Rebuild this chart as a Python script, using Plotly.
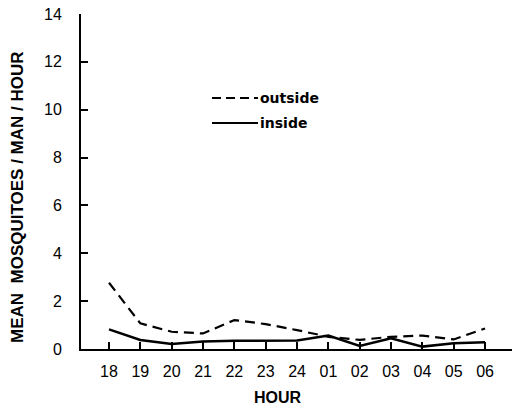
import plotly.graph_objects as go

hours = ["18", "19", "20", "21", "22", "23", "24", "01", "02", "03", "04", "05", "06"]
outside = [2.77, 1.07, 0.72, 0.65, 1.21, 1.04, 0.79, 0.51, 0.38, 0.51, 0.56, 0.40, 0.86]
inside = [0.82, 0.38, 0.21, 0.31, 0.34, 0.34, 0.36, 0.56, 0.13, 0.45, 0.10, 0.24, 0.28]
yticks = [0, 2, 4, 6, 8, 10, 12, 14]

idx = list(range(len(hours)))
L, R, T, B = 81, 0, 14, 56
W, H = 512, 405
pw, ph = W - L - R, H - T - B

def px(x):
    return (x - L) / pw

def py(y):
    return (H - B - y) / ph

fig = go.Figure()
fig.add_trace(go.Scatter(x=idx, y=outside, mode="lines", name="outside",
                         line=dict(color="black", width=2.2, dash="10px,6px")))
fig.add_trace(go.Scatter(x=idx, y=inside, mode="lines", name="inside",
                         line=dict(color="black", width=2.5)))

tickfont = dict(family="Liberation Sans Narrow, Liberation Sans, Arial", size=16, color="black")
boldfont = dict(family="Liberation Sans, Arial", size=17, color="black")
hourfont = dict(family="Liberation Sans, Arial", size=16, color="black")
legfont = dict(family="DejaVu Sans, Liberation Sans", size=14, color="black")

fig.update_layout(
    width=W, height=H,
    margin=dict(l=L, r=R, t=T, b=B),
    paper_bgcolor="white", plot_bgcolor="white",
    showlegend=False,
    xaxis=dict(range=[-0.894, 12.86], tickvals=idx, ticktext=hours,
               showgrid=False, zeroline=False, showline=True, linecolor="black", linewidth=2,
               ticks="inside", ticklen=7, tickwidth=1.5, tickcolor="black",
               tickfont=tickfont, ticklabelstandoff=7),
    yaxis=dict(range=[0, 14], tickvals=yticks,
               showgrid=False, zeroline=False, showline=True, linecolor="black", linewidth=2,
               ticks="inside", ticklen=7, tickwidth=1.5, tickcolor="black",
               tickfont=tickfont, ticklabelstandoff=14),
    shapes=[
        dict(type="line", xref="paper", yref="paper", x0=px(212), x1=px(258), y0=py(98), y1=py(98),
             line=dict(color="black", width=2, dash="9px,5px")),
        dict(type="line", xref="paper", yref="paper", x0=px(212), x1=px(258), y0=py(123), y1=py(123),
             line=dict(color="black", width=2.2)),
    ],
    annotations=[
        dict(text="<b>outside</b>", xref="paper", yref="paper", x=px(258), y=py(98),
             xanchor="left", yanchor="middle", showarrow=False, font=legfont),
        dict(text="<b>inside</b>", xref="paper", yref="paper", x=px(258), y=py(123),
             xanchor="left", yanchor="middle", showarrow=False, font=legfont),
        dict(text="<b>MEAN  MOSQUITOES / MAN / HOUR</b>", xref="paper", yref="paper",
             x=px(17), y=py(197), textangle=-90, xanchor="center", yanchor="middle",
             showarrow=False, font=boldfont),
        dict(text="<b>HOUR</b>", xref="paper", yref="paper", x=px(278), y=py(397),
             xanchor="center", yanchor="middle", showarrow=False, font=hourfont),
    ],
)

fig.write_html("out.html")
